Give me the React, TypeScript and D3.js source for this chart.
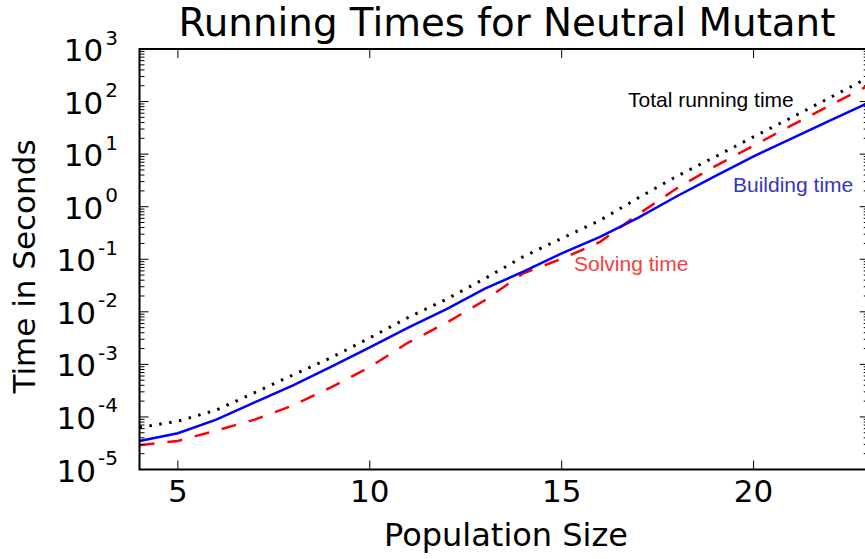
import React, { useEffect, useRef } from 'react';
import * as d3 from 'd3';

// population sizes on the x axis
const populationSizes = [4, 5, 6, 7, 8, 9, 10, 11, 12, 13, 14, 15, 16, 17, 18, 19, 20, 21, 22, 23];

// seconds
const buildingTime = [
  3.5e-5, 4.9e-5, 8.9e-5, 1.9e-4, 4.0e-4, 9.1e-4, 2.1e-3, 5.0e-3, 1.12e-2, 2.75e-2,
  5.8e-2, 0.129, 0.266, 0.62, 1.58, 3.8, 9.1, 20, 44, 95,
];
const solvingTime = [
  2.9e-5, 3.5e-5, 5.5e-5, 8.9e-5, 1.66e-4, 3.7e-4, 8.9e-4, 2.6e-3, 6.2e-3, 1.66e-2,
  5.4e-2, 0.102, 0.214, 0.72, 2.24, 5.9, 14.5, 35.5, 85, 204,
];
const totalTime = [
  6.3e-5, 8.3e-5, 1.35e-4, 2.9e-4, 6.3e-4, 1.35e-3, 3.2e-3, 7.8e-3, 1.74e-2, 4.3e-2,
  0.112, 0.25, 0.55, 1.48, 3.8, 8.9, 21.4, 50, 120, 288,
];

const xTicks = [5, 10, 15, 20];
const yExponents = [-5, -4, -3, -2, -1, 0, 1, 2, 3];

const W = 865;
const H = 559;

export default function App() {
  const svgRef = useRef<SVGSVGElement>(null);

  useEffect(() => {
    if (!svgRef.current) return;
    const svg = d3.select(svgRef.current);
    svg.selectAll('*').remove();

    const left = 139.5, top = 49, bottom = 469.5;
    const x = d3.scaleLinear().domain([4, 23]).range([left, left + 19 * 38.38]);
    const y = d3.scaleLog().domain([1e-5, 1e3]).range([bottom, top]);
    const right = x(23);

    const font = '"DejaVu Sans", sans-serif';

    // title
    svg.append('text')
      .attr('x', 507).attr('y', 36)
      .attr('text-anchor', 'middle')
      .attr('font-family', font).attr('font-size', 38.8)
      .text('Running Times for Neutral Mutant');

    const g = svg.append('g');

    // series
    const series = [
      { data: totalTime, color: '#000000', dash: '2.5 7.5', width: 3 },
      { data: solvingTime, color: '#ff0000', dash: '15 13', width: 2.5 },
      { data: buildingTime, color: '#0000ff', dash: null, width: 2.5 },
    ];
    const line = d3.line<number>()
      .x((_, i) => x(populationSizes[i]))
      .y(d => y(d));
    series.forEach(s => {
      g.append('path')
        .attr('d', line(s.data))
        .attr('fill', 'none')
        .attr('stroke', s.color)
        .attr('stroke-width', s.width)
        .attr('stroke-dasharray', s.dash);
    });

    // inline labels
    const labels = [
      { text: 'Total running time', x: 628, y: 106.7, color: '#000000' },
      { text: 'Building time', x: 733, y: 191.7, color: '#3535c0' },
      { text: 'Solving time', x: 574, y: 270.7, color: '#f54040' },
    ];
    labels.forEach(l => {
      svg.append('text')
        .attr('x', l.x).attr('y', l.y)
        .attr('font-family', '"Liberation Sans", Arial, sans-serif')
        .attr('font-size', 21)
        .attr('fill', l.color)
        .text(l.text);
    });

    // ticks
    const ticks = svg.append('g').attr('stroke', '#000').attr('stroke-width', 1);
    xTicks.forEach(t => {
      ticks.append('line').attr('x1', x(t)).attr('x2', x(t)).attr('y1', bottom).attr('y2', bottom - 9);
      ticks.append('line').attr('x1', x(t)).attr('x2', x(t)).attr('y1', top).attr('y2', top + 9);
    });
    yExponents.forEach(e => {
      for (let m = 1; m <= 9; m++) {
        const v = m * Math.pow(10, e);
        if (v > 1e3 + 1e-9) continue;
        const len = m === 1 ? 9 : 5;
        ticks.append('line').attr('x1', left).attr('x2', left + len).attr('y1', y(v)).attr('y2', y(v));
        ticks.append('line').attr('x1', right).attr('x2', right - len).attr('y1', y(v)).attr('y2', y(v));
      }
    });

    // frame
    svg.append('rect')
      .attr('x', left).attr('y', top)
      .attr('width', right - left).attr('height', bottom - top)
      .attr('fill', 'none').attr('stroke', '#000').attr('stroke-width', 2);

    // x tick labels
    xTicks.forEach(t => {
      svg.append('text')
        .attr('x', x(t)).attr('y', 502)
        .attr('text-anchor', 'middle')
        .attr('font-family', font).attr('font-size', 31)
        .text(String(t));
    });

    // y tick labels 10^n
    yExponents.forEach(e => {
      const ty = y(Math.pow(10, e));
      const t = svg.append('text')
        .attr('x', 118).attr('y', ty + 12)
        .attr('text-anchor', 'end')
        .attr('font-family', font).attr('font-size', 31);
      t.append('tspan').text('10');
      t.append('tspan').attr('dy', -16.5).attr('dx', 2).attr('font-size', 20).text(String(e));
    });

    // axis labels
    svg.append('text')
      .attr('x', 506).attr('y', 546)
      .attr('text-anchor', 'middle')
      .attr('font-family', font).attr('font-size', 32)
      .text('Population Size');
    svg.append('text')
      .attr('transform', 'translate(35,266.5) rotate(-90)')
      .attr('text-anchor', 'middle')
      .attr('font-family', font).attr('font-size', 31)
      .text('Time in Seconds');
  }, []);

  return (
    <svg
      ref={svgRef}
      width={W}
      height={H}
      style={{ position: 'absolute', left: 0, top: 0, background: '#fff' }}
    />
  );
}
